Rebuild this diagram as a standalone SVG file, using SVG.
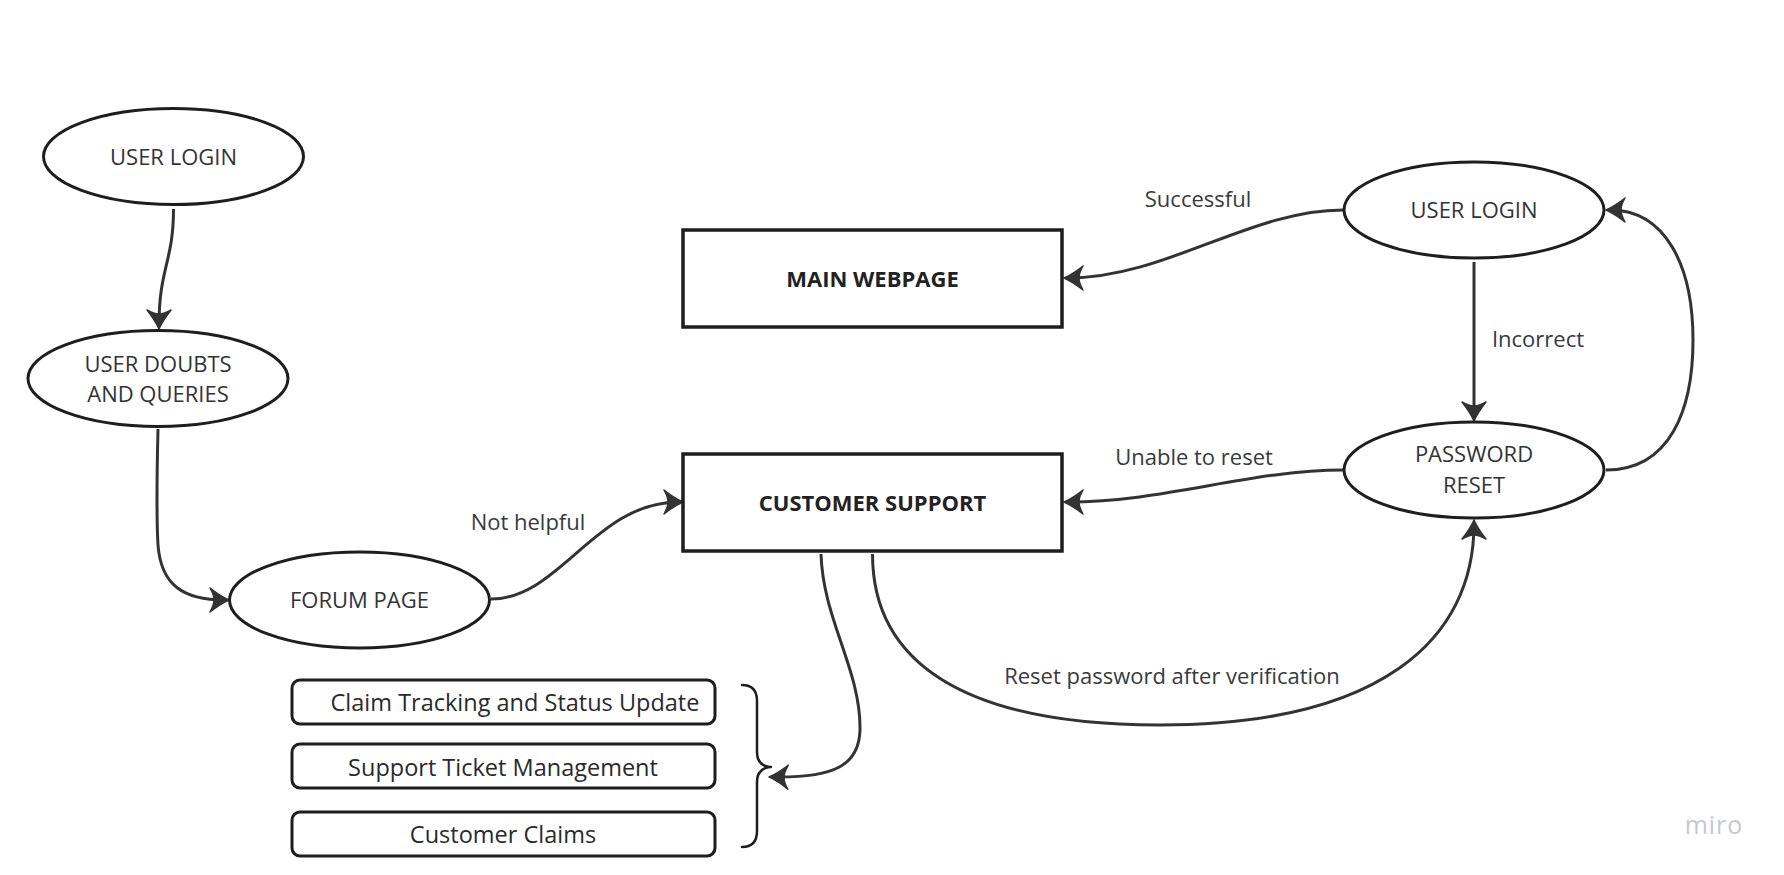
<svg xmlns="http://www.w3.org/2000/svg" width="1784" height="875" viewBox="0 0 1784 875">
<defs>
<style>
.bg{fill:#ffffff}
.ell{fill:#ffffff;stroke:#1e1e1e;stroke-width:3}
.box{fill:#ffffff;stroke:#1e1e1e;stroke-width:3.5}
.item{fill:#ffffff;stroke:#1e1e1e;stroke-width:3}
.t{font-family:"Open Sans","Liberation Sans",sans-serif;font-size:22px;fill:#333333;text-anchor:middle}
.tb{font-family:"Open Sans","Liberation Sans",sans-serif;font-size:22px;font-weight:700;fill:#222222;text-anchor:middle}
.ti{font-family:"Open Sans","Liberation Sans",sans-serif;font-size:23.5px;fill:#2a2a2a;text-anchor:middle}
.lbl{font-family:"Open Sans","Liberation Sans",sans-serif;font-size:22px;fill:#3a3a3a;text-anchor:middle}
.con{fill:none;stroke:#333333;stroke-width:3;marker-end:url(#arr)}
.brace{fill:none;stroke:#1e1e1e;stroke-width:2.5;stroke-linecap:round;stroke-linejoin:round}
.wm{font-family:"Open Sans","Liberation Sans",sans-serif;font-size:25px;fill:#c6c8d0;text-anchor:middle;letter-spacing:1px}
</style>
<marker id="arr" markerUnits="userSpaceOnUse" markerWidth="30" markerHeight="30" viewBox="-24 -15 30 30" refX="-4" refY="0" orient="auto">
<path d="M0,0 Q-9,-4 -19,-12 Q-15,-5 -15,0 Q-15,5 -19,12 Q-9,4 0,0 Z" fill="#333333" stroke="#333333" stroke-width="1.5" stroke-linejoin="round"/>
</marker>
</defs>
<rect class="bg" x="0" y="0" width="1784" height="875"/>

<g id="connectors">
<path class="con" d="M173.5,209 C173.5,262 159,268 159,325"/>
<path class="con" d="M158,429 C157,470 156,510 158,545 C161,585 183,600 225,600"/>
<path class="con" d="M491,599 C560,599 595,502 679,502"/>
<path class="con" d="M1343,210 C1250,210 1165,278 1068,278"/>
<path class="con" d="M1343,470 C1250,470 1165,502 1068,502"/>
<path class="con" d="M1474,262 L1474,417"/>
<path class="con" d="M1606,470 C1670,470 1693,410 1693,340 C1693,265 1665,210 1610,210"/>
<path class="con" d="M872.5,554 C872.5,660 960,725 1160,725 C1380,725 1474,640 1474,524"/>
<path class="con" d="M821,554 C823,620 861,670 860,730 C859,765 835,778 773,777"/>
<text class="lbl" x="1198" y="207">Successful</text>
<text class="lbl" x="1538" y="347">Incorrect</text>
<text class="lbl" x="1194" y="465">Unable to reset</text>
<text class="lbl" x="528" y="530">Not helpful</text>
<text class="lbl" x="1172" y="684">Reset password after verification</text>
</g>

<g id="user-login-left">
<ellipse class="ell" cx="173.5" cy="156.5" rx="130" ry="48"/>
<text class="t" x="173.5" y="165">USER LOGIN</text>
</g>
<g id="user-doubts">
<ellipse class="ell" cx="158" cy="378.5" rx="130" ry="48"/>
<text class="t" x="158" y="372">USER DOUBTS</text>
<text class="t" x="158" y="402">AND QUERIES</text>
</g>
<g id="forum-page">
<ellipse class="ell" cx="359.5" cy="600" rx="130" ry="48"/>
<text class="t" x="359.5" y="608">FORUM PAGE</text>
</g>
<g id="main-webpage">
<rect class="box" x="683" y="230" width="379" height="97"/>
<text class="tb" x="872.5" y="287">MAIN WEBPAGE</text>
</g>
<g id="customer-support">
<rect class="box" x="683" y="454" width="379" height="97"/>
<text class="tb" x="872.5" y="511">CUSTOMER SUPPORT</text>
</g>
<g id="user-login-right">
<ellipse class="ell" cx="1474" cy="210" rx="130" ry="48"/>
<text class="t" x="1474" y="218">USER LOGIN</text>
</g>
<g id="password-reset">
<ellipse class="ell" cx="1474" cy="470" rx="130" ry="48"/>
<text class="t" x="1474" y="462">PASSWORD</text>
<text class="t" x="1474" y="493">RESET</text>
</g>
<g id="claim-tracking">
<rect class="item" x="292" y="680" width="423" height="44" rx="8"/>
<text class="ti" x="515" y="711">Claim Tracking and Status Update</text>
</g>
<g id="support-ticket">
<rect class="item" x="292" y="744" width="423" height="44" rx="8"/>
<text class="ti" x="503" y="776">Support Ticket Management</text>
</g>
<g id="customer-claims">
<rect class="item" x="292" y="812" width="423" height="44" rx="8"/>
<text class="ti" x="503" y="843">Customer Claims</text>
</g>
<g id="brace">
<path class="brace" d="M742,685 Q757,685 757,701 L757,752 Q757,766 771,767 Q757,768 757,782 L757,831 Q757,847 742,847"/>
</g>
<text class="wm" x="1714" y="834">miro</text>
</svg>
